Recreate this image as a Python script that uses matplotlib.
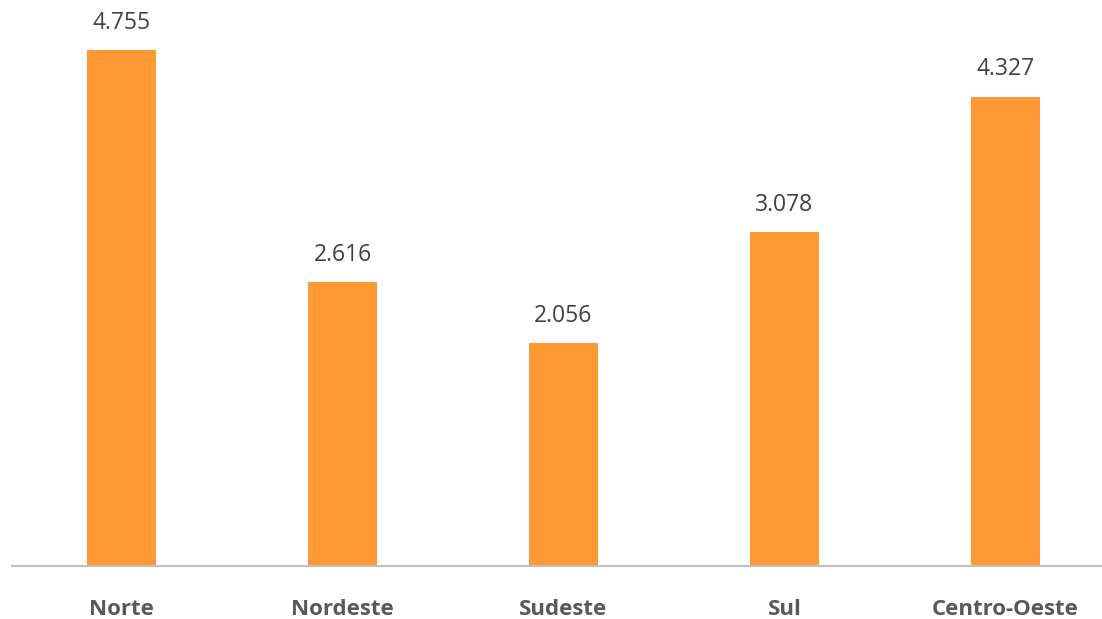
import matplotlib.pyplot as plt

regioes = ["Norte", "Nordeste", "Sudeste", "Sul", "Centro-Oeste"]
valores = [4.755, 2.616, 2.056, 3.078, 4.327]
rotulos = ["4.755", "2.616", "2.056", "3.078", "4.327"]

plt.rcParams['font.family'] = ['Open Sans', 'DejaVu Sans']

fig = plt.figure(figsize=(11.02, 6.19), dpi=100)
ax = fig.add_axes([12 / 1102, 53 / 619, 1090 / 1102, 542.5 / 619])

x = range(len(regioes))
barras = ax.bar(x, valores, width=0.312, color="#FF9933", zorder=2)

for b, txt in zip(barras, rotulos):
    ax.annotate(txt, (b.get_x() + b.get_width() / 2, b.get_height()),
                xytext=(0, 11), textcoords="offset points",
                ha="center", va="bottom", fontsize=16.5, color="#404040")

ax.set_xlim(-0.496, 4.437)
ax.set_ylim(0, 5)
ax.set_xticks(list(x))
ax.set_xticklabels(regioes, fontsize=16, fontweight="bold", color="#595959")
ax.tick_params(axis="x", length=0, pad=23.5)
ax.set_yticks([])

for s in ["top", "right", "left"]:
    ax.spines[s].set_visible(False)
ax.spines["bottom"].set_color("#BFBFBF")
ax.spines["bottom"].set_linewidth(1.5)

fig.savefig("out.png", dpi=100)
